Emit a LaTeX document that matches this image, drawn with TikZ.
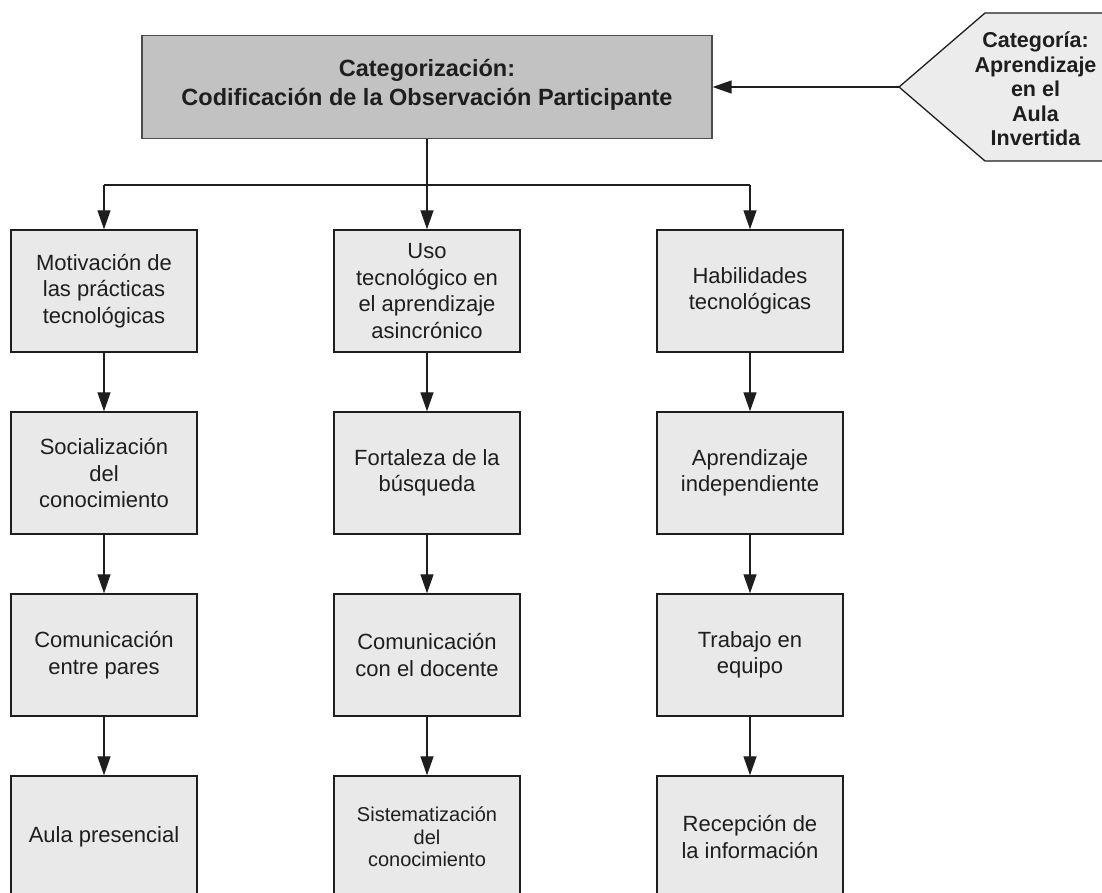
\documentclass[tikz,border=0pt]{standalone}
\usepackage{fontspec}
\setmainfont{Liberation Sans}
\usetikzlibrary{arrows.meta}

\definecolor{boxfill}{HTML}{E9E9E9}
\definecolor{headfill}{HTML}{C2C2C2}
\definecolor{tagfill}{HTML}{ECECEC}
\definecolor{ink}{HTML}{1E1E1E}

\begin{document}
\begin{tikzpicture}[x=1pt,y=-1pt,
  box/.style={draw=ink, line width=1.4pt, fill=boxfill, minimum width=186pt,
    minimum height=122pt, inner sep=0pt, align=center, text=ink,
    font=\fontsize{22}{26.5}\selectfont},
  smallbox/.style={box, font=\fontsize{20}{22.5}\selectfont},
  headbox/.style={draw=black!70, line width=1.2pt, fill=headfill, minimum width=570pt,
    minimum height=103pt, inner sep=0pt, align=center, text=ink,
    font=\fontsize{23.5}{29}\selectfont\bfseries},
  tagtext/.style={align=center, text=ink, inner sep=0pt,
    font=\fontsize{21.5}{24.5}\selectfont\bfseries},
  wire/.style={draw=ink, line width=1.3pt},
  link/.style={wire, -{Triangle[length=19pt,width=13pt]}}]

\useasboundingbox (0,0) rectangle (1102,892);

% header box
\node[headbox] (top) at (427,87) {};
\node[align=center, text=ink, inner sep=0pt, font=\fontsize{23.5}{29}\selectfont\bfseries]
  (toptext) at (427,85) {Categorización:\\Codificación de la Observación Participante};

% category tag (pentagon, running off the right edge)
\coordinate (tip) at (899,87);
\draw[draw=ink, line width=1.3pt, fill=tagfill]
  (tip) -- (985,13) -- (1115,13) -- (1115,161) -- (985,161) -- cycle;
\node[tagtext] (cat) at (1035.5,89) {Categoría:\\Aprendizaje\\en el\\Aula\\Invertida};
\draw[link] (tip) -- (tip -| top.east);

% left column
\node[box] (m1) at (104,291) {Motivación de\\las prácticas\\tecnológicas};
\node[box] (m2) at (104,473) {Socialización\\del\\conocimiento};
\node[box] (m3) at (104,655) {Comunicación\\entre pares};
\node[box] (m4) at (104,837) {Aula presencial};

% middle column
\node[box] (u1) at (427,291) {Uso\\tecnológico en\\el aprendizaje\\asincrónico};
\node[box] (u2) at (427,473) {Fortaleza de la\\búsqueda};
\node[box] (u3) at (427,655) {Comunicación\\con el docente};
\node[smallbox] (u4) at (427,837) {Sistematización\\del\\conocimiento};

% right column
\node[box] (h1) at (750,291) {Habilidades\\tecnológicas};
\node[box] (h2) at (750,473) {Aprendizaje\\independiente};
\node[box] (h3) at (750,655) {Trabajo en\\equipo};
\node[box] (h4) at (750,837) {Recepción de\\la información};

% branching from the header
\coordinate (bus) at (427,185);
\draw[wire] (top.south) -- (bus);
\draw[wire] (bus -| m1.north) -- (bus -| h1.north);
\draw[link] (bus -| m1.north) -- (m1.north);
\draw[link] (bus) -- (u1.north);
\draw[link] (bus -| h1.north) -- (h1.north);

% column chains
\foreach \a/\b in {m1/m2,m2/m3,m3/m4,u1/u2,u2/u3,u3/u4,h1/h2,h2/h3,h3/h4}
  \draw[link] (\a) -- (\b);

\end{tikzpicture}
\end{document}
